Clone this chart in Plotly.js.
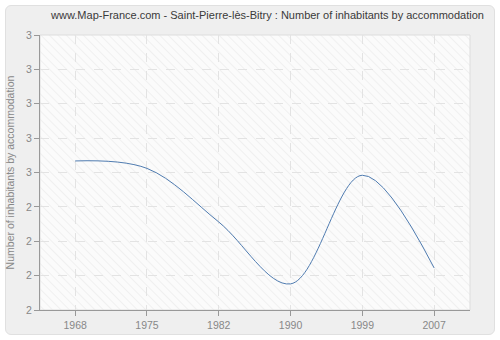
<!DOCTYPE html>
<html><head><meta charset="utf-8">
<script src="https://cdn.plot.ly/plotly-3.0.1.min.js"></script>
<style>
html,body{margin:0;padding:0;background:#fff;}
#panel{position:absolute;left:5px;top:5px;width:488px;height:328px;background:#efefef;border:1px solid #e0e0e0;border-radius:6px;}
#chart{position:absolute;left:0;top:0;width:500px;height:340px;}
</style></head><body>
<div id="panel"></div>
<div id="chart"></div>
<script>
const years = ["1968","1975","1982","1990","1999","2007"];
const values = [2.542, 2.515, 2.32, 2.095, 2.49, 2.153];
const yTickVals = [2, 2.125, 2.25, 2.375, 2.5, 2.625, 2.75, 2.875, 3];
const yTickText = ["2","2","2","2","3","3","3","3","3"];

const hatch = "data:image/svg+xml;utf8," + encodeURIComponent(
 '<svg xmlns="http://www.w3.org/2000/svg" width="430" height="275">' +
 '<defs><pattern id="p" width="6" height="6" patternUnits="userSpaceOnUse" patternTransform="rotate(-45)">' +
 '<rect width="6" height="6" fill="#fbfbfb"/><line x1="0" y1="0" x2="0" y2="6" stroke="#f0f0f0" stroke-width="2"/></pattern></defs>' +
 '<rect width="430" height="275" fill="url(#p)"/></svg>');

const FONT = 'Liberation Sans, Arial, sans-serif';
const trace = {
  x: years, y: values, type: 'scatter', mode: 'lines',
  line: {shape: 'spline', smoothing: 1.0, color: '#4f7bb0', width: 1},
  hoverinfo: 'skip'
};
const layout = {
  width: 500, height: 340,
  margin: {l: 40, r: 30, t: 35, b: 30},
  paper_bgcolor: 'rgba(0,0,0,0)',
  plot_bgcolor: '#fbfbfb',
  showlegend: false,
  font: {family: FONT, size: 10.5, color: '#888'},
  title: {text: 'www.Map-France.com - Saint-Pierre-lès-Bitry : Number of inhabitants by accommodation',
          font: {family: FONT, size: 11, color: '#3a3a3a'}, x: 0.535, xanchor: 'center', y: 0.955, yanchor: 'middle'},
  xaxis: {type: 'category', range: [-0.49, 5.5], showgrid: true, gridcolor: '#e3e3e3', griddash: 'dash', gridwidth: 1,
          ticks: 'outside', ticklen: 5, tickcolor: '#999', showline: true, linecolor: '#999', linewidth: 1,
          tickfont: {color: '#888', size: 10.5}, zeroline: false, fixedrange: true},
  yaxis: {range: [2, 3], tickvals: yTickVals, ticktext: yTickText, showgrid: true, gridcolor: '#e3e3e3', griddash: 'dash',
          ticks: 'outside', ticklen: 5, tickcolor: '#999', showline: true, linecolor: '#999', linewidth: 1,
          tickfont: {color: '#888', size: 10.5}, zeroline: false, fixedrange: true,
          title: {text: 'Number of inhabitants by accommodation', font: {color: '#888', size: 10.5}, standoff: 9}},
  images: [{source: hatch, xref: 'paper', yref: 'paper', x: 0, y: 1, sizex: 1, sizey: 1, sizing: 'stretch', layer: 'below', xanchor: 'left', yanchor: 'top'}],
  shapes: [{type: 'rect', xref: 'paper', yref: 'paper', x0: 0, x1: 1, y0: 0, y1: 1, line: {color: '#dddddd', width: 1}, layer: 'below'}]
};
Plotly.newPlot('chart', [trace], layout, {staticPlot: true, displayModeBar: false});
</script>
</body></html>
